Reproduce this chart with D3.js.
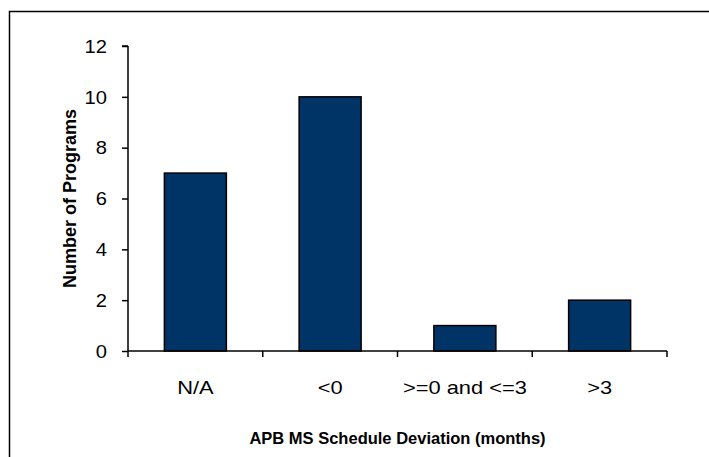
<!DOCTYPE html>
<html>
<head>
<meta charset="utf-8">
<script src="https://cdn.jsdelivr.net/npm/d3@7"></script>
<style>
  html, body { margin: 0; padding: 0; background: #fff; }
  svg { display: block; font-family: "Liberation Sans", Arial, sans-serif; }
</style>
</head>
<body>
<svg id="chart" width="709" height="457"></svg>
<script>
// Programs by schedule deviation bucket
const categories = ["N/A", "<0", ">=0 and <=3", ">3"];
const programCounts = [7, 10, 1, 2];
const yTicks = [0, 2, 4, 6, 8, 10, 12];
const xTitle = "APB MS Schedule Deviation (months)";
const yTitle = "Number of Programs";

const svg = d3.select("#chart");
const FONT = "Liberation Sans, Arial, sans-serif";
// Label glyphs are drawn slightly wide
const LABEL_STRETCH = 1.25;

// Chart frame
svg.append("rect")
  .attr("x", 9.5).attr("y", 11.5)
  .attr("width", 720).attr("height", 460)
  .attr("fill", "none").attr("stroke", "#000").attr("stroke-width", 1.5);

const plot = { left: 128, right: 667, top: 46, bottom: 351 };

const x = d3.scaleBand()
  .domain(categories)
  .range([plot.left, plot.right])
  .paddingInner(0.54)
  .paddingOuter(0.27);

const y = d3.scaleLinear()
  .domain([0, 12])
  .range([plot.bottom, plot.top]);

// Bars
svg.append("g")
  .selectAll("rect")
  .data(categories.map((c, i) => ({ c, v: programCounts[i] })))
  .join("rect")
  .attr("x", d => x(d.c))
  .attr("y", d => y(d.v))
  .attr("width", x.bandwidth())
  .attr("height", d => y(0) - y(d.v))
  .attr("fill", "#003366")
  .attr("stroke", "#000")
  .attr("stroke-width", 1.5);

// Y axis
const yAxis = svg.append("g")
  .attr("transform", `translate(${plot.left},0)`)
  .call(d3.axisLeft(y).tickValues(yTicks).tickSize(6).tickPadding(0));
yAxis.attr("font-size", null).attr("font-family", null);
yAxis.select(".domain").attr("stroke", "#000").attr("stroke-width", 1.5)
  .attr("d", `M0,${plot.top}H-6M0,${plot.top}V${plot.bottom}`);
yAxis.selectAll(".tick line").attr("stroke", "#000").attr("stroke-width", 1.5);
yAxis.selectAll(".tick text")
  .attr("x", null)
  .attr("dy", "0.36em")
  .attr("transform", `translate(-21,0) scale(1.15,1)`)
  .style("font-size", "17.5px").style("font-family", FONT)
  .attr("fill", "#000");

// X axis: ticks mark the boundaries between categories
const xAxisG = svg.append("g")
  .attr("transform", `translate(0,${plot.bottom})`);
xAxisG.append("line")
  .attr("x1", plot.left).attr("x2", plot.right)
  .attr("stroke", "#000").attr("stroke-width", 1.5);
const step = x.step();
const boundaries = d3.range(categories.length + 1)
  .map(i => plot.left + x.paddingOuter() * step - x.paddingInner() * step / 2 + i * step);
xAxisG.selectAll("line.tick")
  .data(boundaries)
  .join("line")
  .attr("class", "tick")
  .attr("x1", d => d).attr("x2", d => d)
  .attr("y1", 0).attr("y2", 6)
  .attr("stroke", "#000").attr("stroke-width", 1.5);
xAxisG.selectAll("text")
  .data(categories)
  .join("text")
  .attr("transform", d => `translate(${x(d) + x.bandwidth() / 2},43) scale(${LABEL_STRETCH},1)`)
  .attr("text-anchor", "middle")
  .style("font-size", "17.5px")
  .attr("fill", "#000")
  .text(d => d);

// Axis titles
svg.append("text")
  .attr("x", (plot.left + plot.right) / 2)
  .attr("y", 444)
  .attr("text-anchor", "middle")
  .style("font-size", "16.5px")
  .attr("font-weight", "bold")
  .text(xTitle);

svg.append("text")
  .attr("transform", `translate(76,${(plot.top + plot.bottom) / 2}) rotate(-90)`)
  .attr("text-anchor", "middle")
  .style("font-size", "18px")
  .attr("font-weight", "bold")
  .text(yTitle);
</script>
</body>
</html>
